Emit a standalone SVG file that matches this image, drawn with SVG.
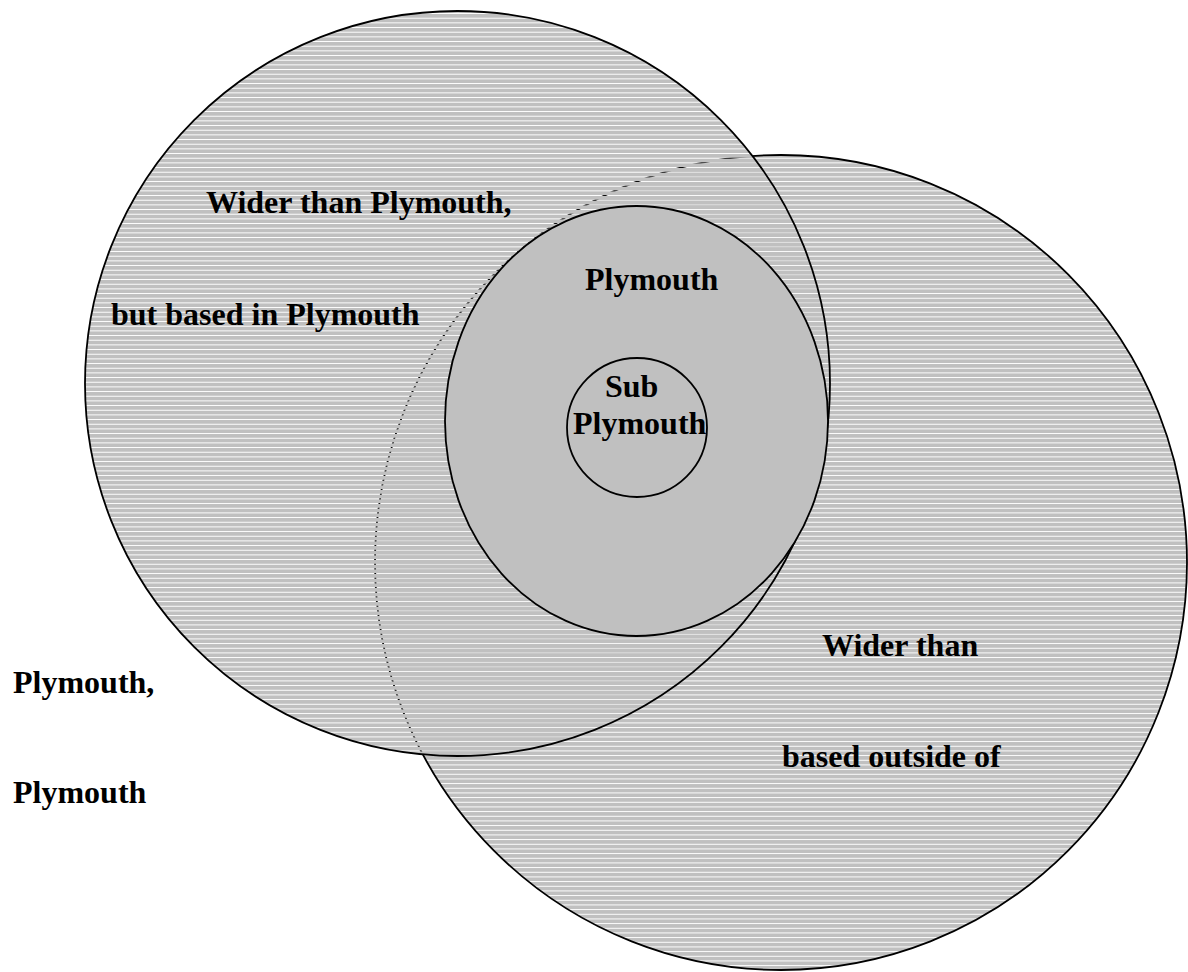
<svg xmlns="http://www.w3.org/2000/svg" width="1188" height="972" viewBox="0 0 1188 972">
<style>
.lbl{font-family:"Liberation Serif","Times New Roman",serif;font-weight:bold;font-size:32px;fill:#000}
.edge{stroke:#000;stroke-width:1.8}
</style>
<defs>
<pattern id="hatch" patternUnits="userSpaceOnUse" x="0" y="0" width="20" height="4.667">
<rect x="0" y="0" width="20" height="3.6" fill="#c0c0c0" shape-rendering="crispEdges"/>
</pattern>
</defs>
<rect width="1188" height="972" fill="#fff"/>
<g id="outside">
<ellipse cx="781" cy="562.5" rx="406" ry="407.5" fill="url(#hatch)" class="edge"/>
</g>
<g id="wider">
<ellipse cx="457.5" cy="383.5" rx="372.5" ry="372.5" fill="url(#hatch)" class="edge"/>
</g>
<g id="plymouth">
<ellipse cx="636.5" cy="421" rx="191.5" ry="215" fill="#c0c0c0" class="edge"/>
</g>
<g id="sub">
<ellipse cx="637" cy="427.5" rx="70" ry="69.5" fill="#c0c0c0" class="edge"/>
</g>
<g id="labels">
<text class="lbl" x="206" y="213">Wider than Plymouth,</text>
<text class="lbl" x="111" y="325">but based in Plymouth</text>
<text class="lbl" x="585" y="290">Plymouth</text>
<text class="lbl" x="605" y="397">Sub</text>
<text class="lbl" x="573" y="434">Plymouth</text>
<text class="lbl" x="13" y="693">Plymouth,</text>
<text class="lbl" x="13" y="803">Plymouth</text>
<text class="lbl" x="822" y="656">Wider than</text>
<text class="lbl" x="782" y="767">based outside of</text>
</g>
</svg>
